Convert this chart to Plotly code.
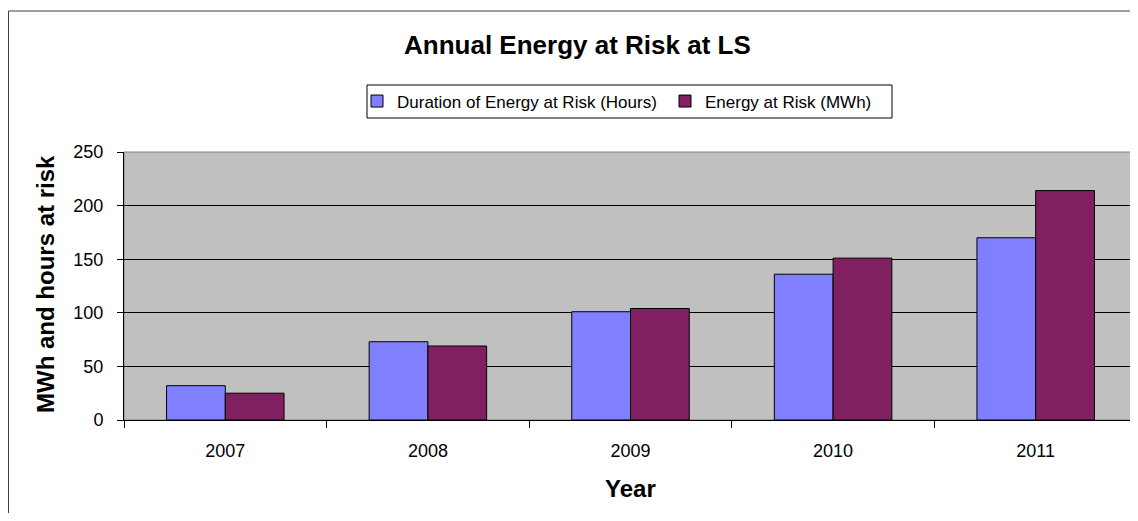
import plotly.graph_objects as go

years = ["2007", "2008", "2009", "2010", "2011"]
duration_hours = [32, 73, 101, 136, 170]
energy_mwh = [25, 69, 104, 151, 214]
series_names = ["Duration of Energy at Risk (Hours)", "Energy at Risk (MWh)"]
y_ticks = [0, 50, 100, 150, 200, 250]

FONT = "Arial, Liberation Sans, sans-serif"

# page body has an 8px margin, so the figure starts at window (8, 8)
OFF = 8
W, H = 1130, 505
# plot area in window coords: x 124..1137, y 152..420
L, R, T, B = 124 - OFF, W - (1137 - OFF), 152 - OFF, H - (420 - OFF)
pw, ph = W - L - R, H - T - B


def px(xw):
    return (xw - OFF - L) / pw


def py(yw):
    return (H - B - (yw - OFF)) / ph


fig = go.Figure()
fig.add_trace(go.Bar(x=years, y=duration_hours, name=series_names[0],
                     marker=dict(color="#8080ff", line=dict(color="#000000", width=1))))
fig.add_trace(go.Bar(x=years, y=energy_mwh, name=series_names[1],
                     marker=dict(color="#802060", line=dict(color="#000000", width=1))))

fig.update_layout(
    width=W, height=H,
    margin=dict(l=L, r=R, t=T, b=B),
    paper_bgcolor="white",
    plot_bgcolor="#c0c0c0",
    font=dict(family=FONT, color="#000000"),
    barmode="group", bargap=0.42, bargroupgap=0,
    showlegend=True,
    legend=dict(orientation="h", x=px(357), y=py(101.5), xanchor="left", yanchor="middle",
                borderwidth=0, bgcolor="rgba(0,0,0,0)",
                font=dict(size=17, family=FONT), itemwidth=30,
                entrywidth=263, entrywidthmode="pixels"),
    xaxis=dict(showline=True, linecolor="#000000", linewidth=1,
               ticks="outside", ticklen=7, tickcolor="#000000", tickson="boundaries",
               tickfont=dict(size=18, family=FONT, color="#000000"),
               ticklabelstandoff=14,
               showgrid=False, fixedrange=True),
    yaxis=dict(range=[0, 250], tickvals=y_ticks, showline=True, linecolor="#000000", linewidth=1,
               ticks="outside", ticklen=6, tickcolor="#000000",
               tickfont=dict(size=18, family=FONT, color="#000000"),
               ticklabelstandoff=10,
               showgrid=True, gridcolor="#000000", gridwidth=1, zeroline=False, fixedrange=True),
    shapes=[
        dict(type="rect", xref="paper", yref="paper", x0=0, x1=1, y0=0, y1=1,
             line=dict(color="#808080", width=1), layer="below"),
        # legend frame
        dict(type="rect", xref="paper", yref="paper", x0=px(367), x1=px(892), y0=py(118), y1=py(85),
             line=dict(color="#000000", width=1), fillcolor="white", layer="below"),
        # chart-area frame
        dict(type="rect", xref="paper", yref="paper", x0=px(8.5), x1=px(1160), y0=py(11), y1=py(560),
             line=dict(color="#404040", width=1), layer="above"),
    ],
    annotations=[
        dict(text="<b>Annual Energy at Risk at LS</b>", xref="paper", yref="paper",
             x=px(577), y=py(45), xanchor="center", yanchor="middle", showarrow=False,
             font=dict(size=26, family=FONT)),
        dict(text="<b>MWh and hours at risk</b>", xref="paper", yref="paper",
             x=px(45), y=py(284), xanchor="center", yanchor="middle", showarrow=False,
             textangle=-90, font=dict(size=24, family=FONT)),
        dict(text="<b>Year</b>", xref="paper", yref="paper",
             x=px(630), y=py(488), xanchor="center", yanchor="middle", showarrow=False,
             font=dict(size=24, family=FONT)),
    ],
)

fig.write_html("out.html")
